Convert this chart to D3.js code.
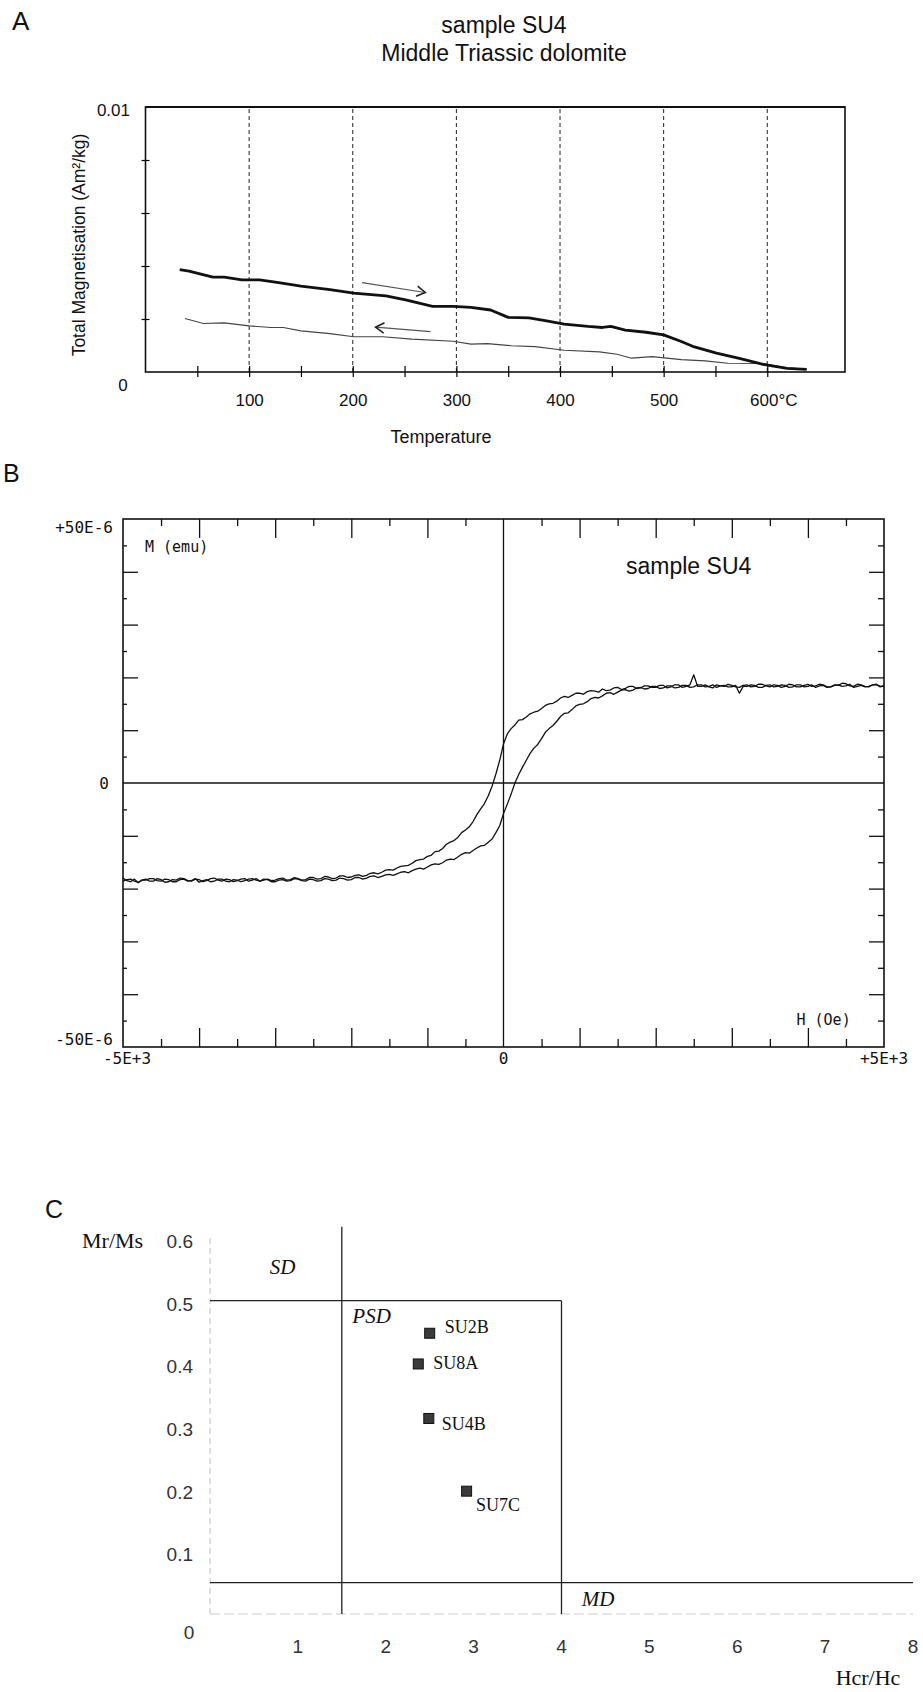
<!DOCTYPE html>
<html>
<head>
<meta charset="utf-8">
<script src="https://cdn.jsdelivr.net/npm/d3@7"></script>
<style>
  body { margin: 0; background: #fff; }
  svg { display: block; }
</style>
</head>
<body>
<svg id="fig" width="923" height="1692"></svg>
<script>
// ---------- Panel A: thermomagnetic curve ----------
const heatTemp = [33, 42, 65, 76, 93, 110, 127, 150, 178, 201, 232, 251, 277, 297, 314, 333, 350, 370, 387, 404, 427, 441, 449, 463, 483, 500, 517, 528, 551, 573, 596, 619, 638];
const heatMag  = [0.00386, 0.00381, 0.00358, 0.00358, 0.00348, 0.00348, 0.00338, 0.00324, 0.00311, 0.00298, 0.00287, 0.00272, 0.00248, 0.00248, 0.00244, 0.00234, 0.00206, 0.00204, 0.00193, 0.00181, 0.00172, 0.00168, 0.00172, 0.00158, 0.00150, 0.00140, 0.00115, 0.00097, 0.00071, 0.00051, 0.00029, 0.00014, 0.00010];
const coolTemp = [38, 56, 76, 100, 121, 133, 150, 178, 201, 229, 257, 297, 314, 330, 353, 376, 404, 438, 455, 469, 489, 503, 517, 540, 562, 596, 619, 638];
const coolMag  = [0.00202, 0.00183, 0.00185, 0.00174, 0.00168, 0.00168, 0.00155, 0.00145, 0.00133, 0.00133, 0.00124, 0.00116, 0.00105, 0.00107, 0.00099, 0.00096, 0.00082, 0.00076, 0.00067, 0.00052, 0.00058, 0.00052, 0.00047, 0.00042, 0.00033, 0.00032, 0.00016, 0.00010];
const heatArrow = [[209, 0.00337], [270, 0.00300]];
const coolArrow = [[275, 0.00152], [222, 0.00169]];
const tempGrid = [100, 200, 300, 400, 500, 600];
const tempLabels = ["100", "200", "300", "400", "500", "600°C"];
const tempTicks = [50, 100, 150, 200, 250, 300, 350, 400, 450, 500, 550, 600];
const magTicks = [0.002, 0.004, 0.006, 0.008];

// ---------- Panel B: hysteresis loop (M in 1E-6 emu) ----------
const fieldOe = [
  -5000, -4950, -4900, -4850, -4800, -4750, -4700, -4650, -4600, -4550,
  -4500, -4450, -4400, -4350, -4300, -4250, -4200, -4150, -4100, -4050,
  -4000, -3950, -3900, -3850, -3800, -3750, -3700, -3650, -3600, -3550,
  -3500, -3450, -3400, -3350, -3300, -3250, -3200, -3150, -3100, -3050,
  -3000, -2950, -2900, -2850, -2800, -2750, -2700, -2650, -2600, -2550,
  -2500, -2450, -2400, -2350, -2300, -2250, -2200, -2150, -2100, -2050,
  -2000, -1950, -1900, -1850, -1800, -1750, -1700, -1650, -1600, -1550,
  -1500, -1450, -1400, -1350, -1300, -1250, -1200, -1150, -1100, -1050,
  -1000, -950, -900, -850, -800, -750, -700, -650, -600, -550,
  -500, -450, -400, -350, -300, -250, -200, -150, -100, -50,
  0, 50, 100, 150, 200, 250, 300, 350, 400, 450,
  500, 550, 600, 650, 700, 750, 800, 850, 900, 950,
  1000, 1050, 1100, 1150, 1200, 1250, 1300, 1350, 1400, 1450,
  1500, 1550, 1600, 1650, 1700, 1750, 1800, 1850, 1900, 1950,
  2000, 2050, 2100, 2150, 2200, 2250, 2300, 2350, 2400, 2450,
  2500, 2550, 2600, 2650, 2700, 2750, 2800, 2850, 2900, 2950,
  3000, 3050, 3100, 3150, 3200, 3250, 3300, 3350, 3400, 3450,
  3500, 3550, 3600, 3650, 3700, 3750, 3800, 3850, 3900, 3950,
  4000, 4050, 4100, 4150, 4200, 4250, 4300, 4350, 4400, 4450,
  4500, 4550, 4600, 4650, 4700, 4750, 4800, 4850, 4900, 4950,
  5000];
// descending branch (from positive saturation)
const momentDown = [
  -18.0, -18.5, -18.7, -18.2, -18.9, -18.4, -18.2, -18.6, -18.6, -18.1,
  -18.3, -18.8, -18.7, -18.3, -18.4, -18.0, -18.1, -18.5, -18.6, -18.2,
  -18.3, -18.7, -18.5, -18.1, -18.0, -18.4, -18.6, -18.2, -18.3, -18.7,
  -18.5, -18.2, -18.1, -18.6, -18.4, -18.1, -18.6, -18.4, -18.2, -18.5,
  -18.4, -18.1, -18.0, -18.4, -18.3, -17.9, -18.1, -18.4, -18.3, -17.9,
  -17.9, -18.2, -18.1, -17.7, -17.8, -18.1, -18.0, -17.6, -17.6, -17.9,
  -17.8, -17.5, -17.4, -17.7, -17.5, -17.1, -17.0, -17.2, -16.9, -16.5,
  -16.4, -16.5, -16.1, -15.8, -15.7, -15.6, -15.2, -14.7, -14.5, -14.4,
  -13.9, -13.7, -13.0, -12.9, -12.4, -11.6, -11.2, -10.9, -10.3, -9.4,
  -8.9, -8.3, -7.3, -6.0, -4.9, -3.9, -2.4, -0.6, 1.7, 4.3,
  7.4, 9.3, 10.3, 11.0, 11.9, 12.0, 12.5, 13.1, 13.4, 13.6,
  14.1, 14.7, 15.0, 15.1, 15.5, 16.1, 16.4, 16.2, 16.6, 17.0,
  17.0, 16.8, 17.3, 17.5, 17.4, 17.2, 17.8, 17.5, 17.6, 18.0,
  18.1, 17.7, 17.9, 18.3, 18.3, 17.9, 18.0, 18.4, 18.4, 18.1,
  18.1, 18.5, 18.5, 18.0, 18.2, 18.6, 18.6, 18.1, 18.3, 18.6,
  20.5, 18.3, 18.3, 18.6, 18.2, 18.0, 18.6, 18.4, 18.3, 18.7,
  18.5, 18.2, 18.1, 18.5, 18.6, 18.2, 18.3, 18.7, 18.7, 18.4,
  18.2, 18.6, 18.5, 18.1, 18.3, 18.7, 18.6, 18.2, 18.2, 18.5,
  18.7, 18.3, 18.4, 18.7, 18.6, 18.2, 18.2, 18.6, 18.5, 18.9,
  18.8, 18.4, 18.3, 18.7, 18.6, 18.3, 18.2, 18.6, 18.7, 18.3,
  18.4];
// ascending branch (from negative saturation)
const momentUp = [
  -18.6, -18.3, -18.2, -18.6, -18.8, -18.4, -18.4, -18.1, -18.1, -18.5,
  -18.6, -18.2, -18.3, -18.7, -18.7, -18.3, -18.2, -18.6, -18.5, -18.1,
  -18.8, -18.5, -18.3, -18.7, -18.6, -18.2, -18.2, -18.6, -18.7, -18.3,
  -18.4, -18.7, -18.5, -18.2, -18.1, -18.4, -18.6, -18.2, -18.3, -18.7,
  -18.7, -18.4, -18.3, -18.6, -18.5, -18.1, -18.2, -18.5, -18.6, -18.2,
  -18.3, -18.6, -18.5, -18.1, -18.2, -18.5, -18.4, -18.0, -18.1, -18.4,
  -18.3, -17.9, -17.9, -18.2, -18.0, -17.7, -17.6, -17.9, -17.7, -17.4,
  -17.3, -17.5, -17.2, -16.9, -16.8, -17.0, -16.6, -16.3, -16.1, -16.3,
  -15.9, -15.5, -15.3, -15.4, -15.1, -14.6, -14.4, -14.5, -14.0, -13.5,
  -13.2, -13.3, -12.8, -12.3, -11.9, -11.8, -11.2, -10.6, -9.4, -8.1,
  -5.8, -4.0, -2.1, 0.0, 1.6, 3.0, 4.3, 5.6, 6.6, 7.3,
  8.4, 9.6, 10.3, 10.9, 11.7, 12.6, 13.2, 13.3, 13.9, 14.6,
  14.9, 15.0, 15.4, 16.0, 16.2, 16.1, 16.5, 17.0, 17.1, 16.8,
  17.2, 17.6, 17.7, 17.4, 17.6, 18.0, 18.1, 17.8, 17.9, 18.3,
  18.3, 17.9, 18.0, 18.4, 18.4, 18.0, 18.1, 18.5, 18.5, 18.1,
  18.2, 18.6, 18.6, 18.2, 18.3, 18.6, 18.1, 18.4, 18.5, 18.2,
  18.2, 18.5, 17.0, 18.3, 18.3, 18.6, 18.5, 18.1, 18.1, 18.5,
  18.6, 18.2, 18.3, 18.6, 18.5, 18.1, 18.2, 18.6, 18.6, 18.2,
  18.3, 18.6, 18.1, 18.4, 18.5, 18.1, 18.2, 18.5, 18.6, 18.3,
  18.4, 18.7, 18.1, 18.3, 18.5, 18.2, 18.3, 18.6, 18.6, 18.2,
  18.4];
const fieldMajor = [-4000, -3000, -2000, -1000, 1000, 2000, 3000, 4000];
const fieldMinor = [-4500, -3500, -2500, -1500, -500, 500, 1500, 2500, 3500, 4500];
const momentMajor = [-40, -30, -20, -10, 10, 20, 30, 40];
const momentMinor = [-45, -35, -25, -15, -5, 5, 15, 25, 35, 45];

// ---------- Panel C: Day plot ----------
const samples = ["SU2B", "SU8A", "SU4B", "SU7C"];
const hcrHc = [2.50, 2.37, 2.49, 2.92];
const mrMs = [0.448, 0.399, 0.312, 0.196];
const domainLines = [
  [[1.5, 0], [1.5, 0.618]],
  [[0, 0.5], [4, 0.5]],
  [[4, 0], [4, 0.5]],
  [[0, 0.05], [8, 0.05]]
];
const domainNames = ["SD", "PSD", "MD"];
const domainAt = [[0.68, 0.543], [1.62, 0.464], [4.23, 0.013]];
const ratioTicks = [0.1, 0.2, 0.3, 0.4, 0.5, 0.6];
const hcrTicks = [1, 2, 3, 4, 5, 6, 7, 8];

// ---------- drawing ----------
const SANS = "'Liberation Sans', Arial, sans-serif";
const SERIF = "'Liberation Serif', 'Times New Roman', serif";
const MONO = "'DejaVu Sans Mono', monospace";

const svg = d3.select("#fig");
svg.append("rect").attr("width", 923).attr("height", 1692).attr("fill", "#fff");

function label(x, y, str, size, family, anchor, extra) {
  const t = svg.append("text")
    .attr("x", x).attr("y", y)
    .attr("font-size", size)
    .attr("font-family", family)
    .attr("text-anchor", anchor || "start")
    .attr("fill", "#111")
    .text(str);
  if (extra) extra(t);
  return t;
}

function arrow(g, pts, x, y) {
  const [x1, y1] = [x(pts[0][0]), y(pts[0][1])];
  const [x2, y2] = [x(pts[1][0]), y(pts[1][1])];
  const a = Math.atan2(y2 - y1, x2 - x1);
  const h = 10;
  g.append("line")
    .attr("x1", x1).attr("y1", y1).attr("x2", x2).attr("y2", y2)
    .attr("stroke", "#555").attr("stroke-width", 1.2);
  g.append("path")
    .attr("d", `M${x2 + h * Math.cos(a + 2.6)},${y2 + h * Math.sin(a + 2.6)}L${x2},${y2}L${x2 + h * Math.cos(a - 2.6)},${y2 + h * Math.sin(a - 2.6)}`)
    .attr("fill", "none").attr("stroke", "#222").attr("stroke-width", 1.6);
}

// Panel A
label(12, 30, "A", 26, SANS);
label(504, 33, "sample SU4", 23, SANS, "middle");
label(504, 61, "Middle Triassic dolomite", 23, SANS, "middle");

const xA = d3.scaleLinear().domain([0, 675]).range([145.5, 845]);
const yA = d3.scaleLinear().domain([0, 0.01]).range([372, 107]);
const gA = svg.append("g");

gA.selectAll(".grid").data(tempGrid).join("line")
  .attr("x1", d => xA(d)).attr("x2", d => xA(d))
  .attr("y1", yA(0)).attr("y2", yA(0.01))
  .attr("stroke", "#222").attr("stroke-width", 1)
  .attr("stroke-dasharray", "4,3");

gA.append("g")
  .attr("transform", `translate(0,${yA(0)})`)
  .call(d3.axisBottom(xA).tickValues(tempTicks).tickSize(5).tickFormat(""))
  .call(g => g.select(".domain").remove())
  .call(g => g.selectAll(".tick line").attr("y1", -6).attr("stroke-width", 1.2));

gA.append("g")
  .attr("transform", `translate(0,${yA(0)})`)
  .call(d3.axisBottom(xA).tickValues(tempGrid).tickSize(0).tickPadding(22)
    .tickFormat((d, i) => tempLabels[i]))
  .call(g => g.select(".domain").remove())
  .call(g => g.selectAll("text").attr("font-size", 17).attr("font-family", SANS).attr("fill", "#111"))
  .call(g => g.selectAll(".tick").filter(d => d === 600).select("text").attr("dx", 6));

gA.append("g")
  .attr("transform", `translate(${xA(0)},0)`)
  .call(d3.axisLeft(yA).tickValues(magTicks).tickSize(4).tickFormat(""))
  .call(g => g.select(".domain").remove())
  .call(g => g.selectAll(".tick line").attr("x1", 4).attr("stroke-width", 1.2));

gA.append("rect")
  .attr("x", xA(0)).attr("y", yA(0.01))
  .attr("width", xA(675) - xA(0)).attr("height", yA(0) - yA(0.01))
  .attr("fill", "none").attr("stroke", "#111").attr("stroke-width", 1.6);
gA.append("line")
  .attr("x1", xA(0)).attr("x2", xA(675)).attr("y1", yA(0.01)).attr("y2", yA(0.01))
  .attr("stroke", "#111").attr("stroke-width", 2);

const lineA = d3.line().x(d => xA(d[0])).y(d => yA(d[1]));
gA.append("path").datum(coolTemp.map((t, i) => [t, coolMag[i]]))
  .attr("d", lineA).attr("fill", "none").attr("stroke", "#444").attr("stroke-width", 1.2);
gA.append("path").datum(heatTemp.map((t, i) => [t, heatMag[i]]))
  .attr("d", lineA).attr("fill", "none").attr("stroke", "#111").attr("stroke-width", 2.8)
  .attr("stroke-linejoin", "round");

arrow(gA, heatArrow, xA, yA);
arrow(gA, coolArrow, xA, yA);

label(130, yA(0.01) + 9, "0.01", 17, SANS, "end");
label(123, yA(0) + 19, "0", 17, SANS, "middle");
label(441, 443, "Temperature", 18, SANS, "middle");
label(0, 0, "Total Magnetisation (Am²/kg)", 17.5, SANS, "middle",
  t => t.attr("transform", "translate(85,245) rotate(-90)"));

// Panel B
label(3, 482, "B", 25, SANS);
const xB = d3.scaleLinear().domain([-5000, 5000]).range([123, 884]);
const yB = d3.scaleLinear().domain([-50, 50]).range([1047, 519]);
const gB = svg.append("g");

function ticksB(axis, tr, size) {
  gB.append("g").attr("transform", tr)
    .call(axis.tickSize(size).tickFormat(""))
    .call(g => g.select(".domain").remove())
    .call(g => g.selectAll(".tick line").attr("stroke", "#111").attr("stroke-width", 1.3));
}
ticksB(d3.axisTop(xB).tickValues(fieldMajor), `translate(0,${yB(50)})`, -19);
ticksB(d3.axisTop(xB).tickValues(fieldMinor), `translate(0,${yB(50)})`, -7);
ticksB(d3.axisBottom(xB).tickValues(fieldMajor), `translate(0,${yB(-50)})`, -19);
ticksB(d3.axisBottom(xB).tickValues(fieldMinor), `translate(0,${yB(-50)})`, -8);
ticksB(d3.axisLeft(yB).tickValues(momentMajor), `translate(${xB(-5000)},0)`, -15);
ticksB(d3.axisLeft(yB).tickValues(momentMinor), `translate(${xB(-5000)},0)`, -4);
ticksB(d3.axisRight(yB).tickValues(momentMajor), `translate(${xB(5000)},0)`, -15);
ticksB(d3.axisRight(yB).tickValues(momentMinor), `translate(${xB(5000)},0)`, -6);

gB.append("rect")
  .attr("x", xB(-5000)).attr("y", yB(50))
  .attr("width", xB(5000) - xB(-5000)).attr("height", yB(-50) - yB(50))
  .attr("fill", "none").attr("stroke", "#111").attr("stroke-width", 1.6);
gB.append("line")
  .attr("x1", xB(-5000)).attr("x2", xB(5000)).attr("y1", yB(0)).attr("y2", yB(0))
  .attr("stroke", "#111").attr("stroke-width", 1.4);
gB.append("line")
  .attr("x1", xB(0)).attr("x2", xB(0)).attr("y1", yB(-50)).attr("y2", yB(50))
  .attr("stroke", "#111").attr("stroke-width", 1.3);

const lineB = d3.line().x(d => xB(d[0])).y(d => yB(d[1]));
[momentDown, momentUp].forEach(series => {
  gB.append("path").datum(fieldOe.map((h, i) => [h, series[i]]))
    .attr("d", lineB).attr("fill", "none").attr("stroke", "#111")
    .attr("stroke-width", 1.3).attr("stroke-linejoin", "round");
});

label(xB(-5000) - 10, yB(50) + 14, "+50E-6", 16, MONO, "end");
label(xB(-5000) - 14, yB(0) + 6, "0", 16, MONO, "end");
label(xB(-5000) - 10, yB(-50) - 2, "-50E-6", 16, MONO, "end");
label(xB(-5000) + 4, yB(-50) + 17, "-5E+3", 16, MONO, "middle");
label(xB(0), yB(-50) + 17, "0", 16, MONO, "middle");
label(xB(5000), yB(-50) + 17, "+5E+3", 16, MONO, "middle");
label(xB(-5000) + 22, yB(50) + 33, "M  (emu)", 15, MONO);
label(xB(3850), yB(-50) - 22, "H  (Oe)", 15, MONO);
label(xB(1610), yB(39.6), "sample SU4", 23, SANS);

// Panel C
label(45, 1218, "C", 25, SANS);
const xC = d3.scaleLinear().domain([0, 8]).range([210, 913]);
const yC = d3.scaleLinear().domain([0, 0.6]).range([1614, 1238]);
const gC = svg.append("g");

gC.append("line")
  .attr("x1", xC(0)).attr("x2", xC(0)).attr("y1", yC(0)).attr("y2", yC(0.6))
  .attr("stroke", "#ccc").attr("stroke-width", 1.2).attr("stroke-dasharray", "6,4");
gC.append("line")
  .attr("x1", xC(0)).attr("x2", xC(8)).attr("y1", yC(0)).attr("y2", yC(0))
  .attr("stroke", "#ccc").attr("stroke-width", 1.2).attr("stroke-dasharray", "10,4");

gC.selectAll(".bound").data(domainLines).join("line")
  .attr("x1", d => xC(d[0][0])).attr("y1", d => yC(d[0][1]))
  .attr("x2", d => xC(d[1][0])).attr("y2", d => yC(d[1][1]))
  .attr("stroke", "#222").attr("stroke-width", 1.3);

ratioTicks.forEach(v => label(193, yC(v) + 10, String(v), 19, SANS, "end", t => t.attr("fill", "#333")));
label(189, yC(0) + 25, "0", 19, SANS, "middle", t => t.attr("fill", "#333"));
hcrTicks.forEach(v => label(xC(v), yC(0) + 39, String(v), 19, SANS, "middle", t => t.attr("fill", "#333")));
label(868, 1685, "Hcr/Hc", 22, SERIF, "middle");
label(82, 1248, "Mr/Ms", 22, SERIF);

domainNames.forEach((n, i) => label(xC(domainAt[i][0]), yC(domainAt[i][1]), n, 21, SERIF, "start",
  t => t.attr("font-style", "italic")));

gC.selectAll(".pt").data(samples).join("rect")
  .attr("x", (d, i) => xC(hcrHc[i]) - 5).attr("y", (d, i) => yC(mrMs[i]) - 5)
  .attr("width", 10).attr("height", 10)
  .attr("fill", "#3a3a3a").attr("stroke", "#111").attr("stroke-width", 1);

const tagOffset = [[15, 0], [15, 5.5], [13, 12], [9.5, 20]];
samples.forEach((s, i) => label(xC(hcrHc[i]) + tagOffset[i][0], yC(mrMs[i]) + tagOffset[i][1], s, 18, SERIF));
</script>
</body>
</html>
